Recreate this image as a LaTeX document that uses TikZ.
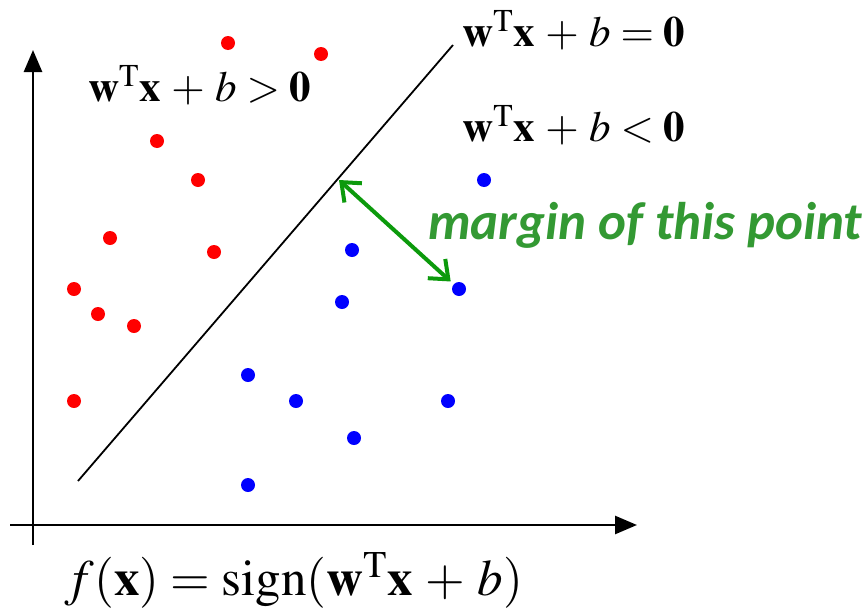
\documentclass[tikz,border=0pt]{standalone}
\usepackage{mathptmx}
\usepackage{fontspec}
\usepackage{tikz}
\usetikzlibrary{arrows.meta}
\newfontfamily\calibri{Carlito}
\definecolor{ptred}{HTML}{FF0000}
\definecolor{ptblue}{HTML}{0000FF}
\definecolor{mgreen}{HTML}{0C9A0C}
\definecolor{mtext}{HTML}{339933}

\begin{document}
\begin{tikzpicture}[x=1pt,y=-1pt,
  dot/.style={circle,inner sep=0pt,minimum size=14pt},
  formula/.style={font=\fontsize{43}{50}\selectfont,inner sep=0pt,anchor=west}]
  \useasboundingbox (0,0) rectangle (866,613);
  % axes
  \coordinate (ybot) at (33,545);
  \coordinate (ytop) at (33,50);
  \coordinate (xleft) at (10,525);
  \coordinate (xright) at (637,525);
  \draw[line width=2.6pt,-{Triangle[length=22pt,width=18pt]}] (ybot) -- (ytop);
  \draw[line width=2.6pt,-{Triangle[length=22pt,width=18pt]}] (xleft) -- (xright);
  % separating hyperplane
  \coordinate (hlow) at (78,481);
  \coordinate (hhigh) at (453,45);
  \draw[line width=1.8pt] (hlow) -- (hhigh);
  % positive class
  \foreach \x/\y [count=\i] in {228/43,321/54,157/141,198/180,110/238,
    214/252,74/289,98/314,134/326,74/401}{
    \node[dot,fill=ptred] (r\i) at (\x,\y) {};
  }
  % negative class
  \foreach \x/\y [count=\i] in {484/180,352/250,342/302,459/289,248/375,
    296/401,448/401,354/438,248/485}{
    \node[dot,fill=ptblue] (b\i) at (\x,\y) {};
  }
  % margin of one point
  \coordinate (foot) at (339,180);
  \draw[mgreen,line width=4pt,{Straight Barb[length=16pt,width=26pt]}-{Straight Barb[length=16pt,width=26pt]},
    shorten >=4pt] (foot) -- (b4);
  \node[anchor=west,inner sep=0pt,text=mtext,font=\calibri\bfseries\itshape\fontsize{53}{60}\selectfont]
    (mlabel) at (428,225) {margin of this point};
  % labels
  \node[formula] (lzero) at (462,30) {$\mathbf{w}^{\mathrm{T}}\mathbf{x}\,+\,b=\mathbf{0}$};
  \node[formula] (lneg) at (462,125) {$\mathbf{w}^{\mathrm{T}}\mathbf{x}\,+\,b<\mathbf{0}$};
  \node[formula] (lpos) at (88,85) {$\mathbf{w}^{\mathrm{T}}\mathbf{x}\,+\,b>\mathbf{0}$};
  \node[formula,font=\fontsize{51}{56}\selectfont] (fsign) at (65,580)
    {$f(\mathbf{x})=\mathrm{sign}(\mathbf{w}^{\mathrm{T}}\mathbf{x}\,+\,b)$};
\end{tikzpicture}
\end{document}
